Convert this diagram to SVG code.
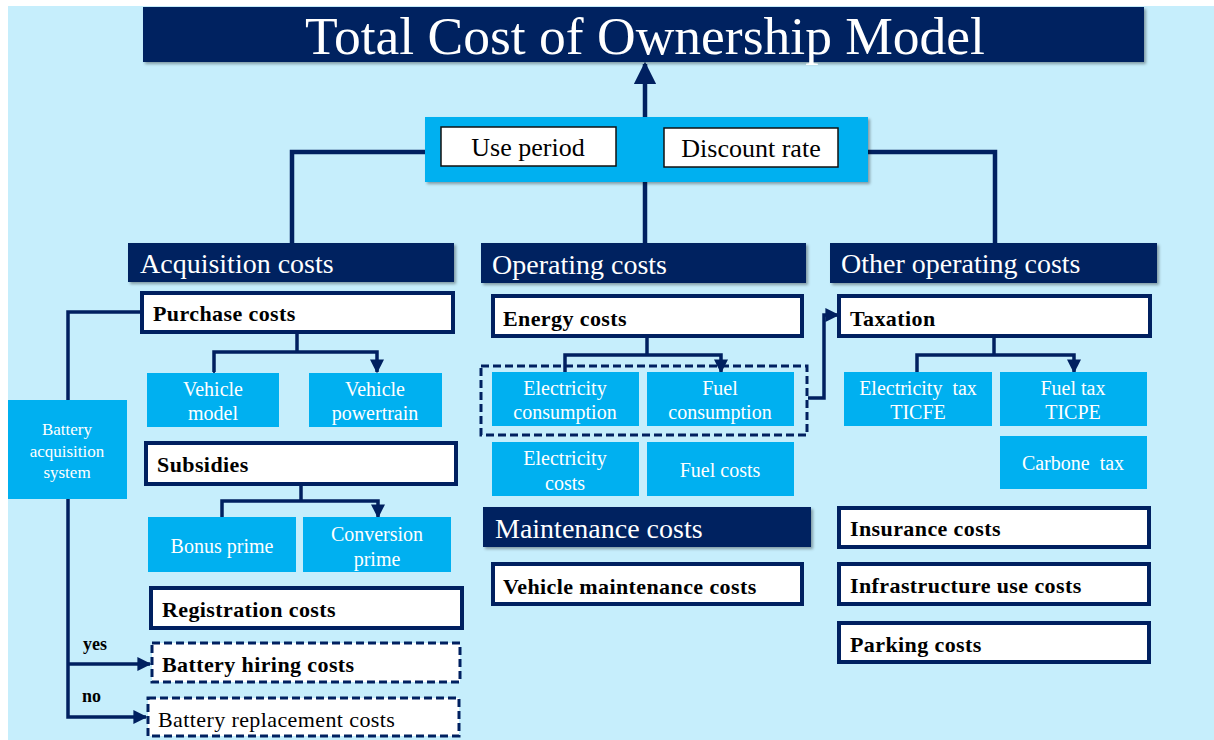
<svg xmlns="http://www.w3.org/2000/svg" width="1214" height="740" viewBox="0 0 1214 740">
<defs>
<style>
text{font-family:"Liberation Serif","Times New Roman",Tinos,"DejaVu Serif",serif;}
.hdr{fill:#002060;}
.wb{fill:#fff;stroke:#002060;stroke-width:4;}
.db{fill:#fff;stroke:#002060;stroke-width:3;stroke-dasharray:8 4;}
.lb{fill:#00B0F0;}
.pw{fill:#fff;stroke:#111;stroke-width:1.5;}
.ht{font-size:28px;fill:#fff;}
.bt{font-weight:bold;font-size:22px;fill:#000;letter-spacing:0.4px;}
.rt{font-size:22px;fill:#000;letter-spacing:0.4px;}
.lt{font-size:20px;fill:#fff;text-anchor:middle;}
.pt{font-size:26px;fill:#000;text-anchor:middle;}
.ln{fill:none;stroke:#002060;stroke-width:4.5;}
.sl{fill:none;stroke:#002060;stroke-width:3.5;}
.yn{font-weight:bold;font-size:18px;fill:#000;}
</style>
<marker id="ah" viewBox="0 0 10 10" refX="9" refY="5" markerWidth="4" markerHeight="4" orient="auto" markerUnits="strokeWidth">
<path d="M0,0 L10,5 L0,10 z" fill="#002060"/>
</marker>
<marker id="ahb" viewBox="0 0 10 10" refX="9" refY="5" markerWidth="5" markerHeight="5" orient="auto" markerUnits="strokeWidth">
<path d="M0,0 L10,5 L0,10 z" fill="#002060"/>
</marker>
<filter id="sh" x="-5%" y="-10%" width="110%" height="130%">
<feDropShadow dx="2" dy="2" stdDeviation="1.5" flood-color="#000" flood-opacity="0.35"/>
</filter>
</defs>

<rect x="0" y="0" width="1214" height="740" fill="#fff"/>
<rect x="8" y="6" width="1206" height="734" fill="#C6EEFC"/>

<g id="connectors">
<line x1="645" y1="118" x2="645" y2="64" class="ln" marker-end="url(#ahb)"/>
<polyline points="425,152 292,152 292,243" class="ln"/>
<line x1="645" y1="182" x2="645" y2="243" class="ln"/>
<polyline points="868,152 995,152 995,243" class="ln"/>
<polyline points="297,333 297,352" class="sl"/>
<polyline points="214,372 214,352 377,352 377,372" class="sl" marker-start="url(#ah)" marker-end="url(#ah)"/>
<polyline points="301,485 301,501" class="sl"/>
<polyline points="222,517 222,501 378,501 378,517" class="sl" marker-start="url(#ah)" marker-end="url(#ah)"/>
<polyline points="647,337 647,355" class="sl"/>
<polyline points="565,372 565,355 721,355 721,372" class="sl" marker-start="url(#ah)" marker-end="url(#ah)"/>
<polyline points="808,398 824,398 824,315 838,315" class="sl" marker-end="url(#ah)"/>
<polyline points="994,337 994,355" class="sl"/>
<polyline points="917,372 917,355 1074,355 1074,372" class="sl" marker-start="url(#ah)" marker-end="url(#ah)"/>
<polyline points="140,312 68,312 68,400" class="sl"/>
<polyline points="68,499 68,717 146,717" class="sl" marker-end="url(#ah)"/>
<polyline points="68,664 150,664" class="sl" marker-end="url(#ah)"/>
</g>

<g id="title">
<rect x="143" y="7" width="1001" height="55" class="hdr" filter="url(#sh)"/>
<text x="645" y="54" font-size="52" fill="#fff" text-anchor="middle" textLength="680" lengthAdjust="spacingAndGlyphs">Total Cost of Ownership Model</text>
</g>

<g id="parameters">
<rect x="425" y="117" width="443" height="65" class="lb" filter="url(#sh)"/>
<g id="use-period">
<rect x="441" y="127" width="175" height="39" class="pw"/>
<text x="528" y="156" class="pt">Use period</text>
</g>
<g id="discount-rate">
<rect x="664" y="128" width="174" height="39" class="pw"/>
<text x="751" y="157" class="pt">Discount rate</text>
</g>
</g>

<g id="acquisition-costs">
<rect x="128" y="243" width="326" height="39" class="hdr" filter="url(#sh)"/>
<text x="140" y="273" class="ht">Acquisition costs</text>
</g>
<g id="operating-costs">
<rect x="481" y="243" width="325" height="40" class="hdr" filter="url(#sh)"/>
<text x="492" y="274" class="ht">Operating costs</text>
</g>
<g id="other-operating-costs">
<rect x="830" y="243" width="327" height="40" class="hdr" filter="url(#sh)"/>
<text x="841" y="273" class="ht">Other operating costs</text>
</g>

<g id="purchase-costs">
<rect x="142" y="293" width="311" height="39" class="wb"/>
<text x="153" y="321" class="bt">Purchase costs</text>
</g>
<g id="vehicle-model">
<rect x="147" y="373" width="132" height="54" class="lb"/>
<text x="213" y="396" class="lt">Vehicle</text>
<text x="213" y="420" class="lt">model</text>
</g>
<g id="vehicle-powertrain">
<rect x="309" y="373" width="133" height="54" class="lb"/>
<text x="375" y="396" class="lt">Vehicle</text>
<text x="375" y="420" class="lt">powertrain</text>
</g>
<g id="subsidies">
<rect x="146" y="443" width="310" height="41" class="wb"/>
<text x="157" y="472" class="bt">Subsidies</text>
</g>
<g id="bonus-prime">
<rect x="148" y="517" width="148" height="55" class="lb"/>
<text x="222" y="553" class="lt">Bonus prime</text>
</g>
<g id="conversion-prime">
<rect x="303" y="517" width="148" height="55" class="lb"/>
<text x="377" y="541" class="lt">Conversion</text>
<text x="377" y="566" class="lt">prime</text>
</g>
<g id="registration-costs">
<rect x="151" y="588" width="311" height="40" class="wb"/>
<text x="162" y="617" class="bt">Registration costs</text>
</g>
<g id="battery-hiring-costs">
<rect x="152" y="643" width="308" height="39" class="db"/>
<text x="162" y="672" class="bt">Battery hiring costs</text>
</g>
<g id="battery-replacement-costs">
<rect x="148" y="698" width="311" height="38" class="db"/>
<text x="158" y="727" class="rt">Battery replacement costs</text>
</g>
<g id="battery-acquisition-system">
<rect x="8" y="400" width="119" height="99" class="lb"/>
<text x="67" y="435" class="lt" style="font-size:17px">Battery</text>
<text x="67" y="457" class="lt" style="font-size:17px">acquisition</text>
<text x="67" y="478" class="lt" style="font-size:17px">system</text>
</g>
<g id="labels-yes-no">
<text x="83" y="650" class="yn">yes</text>
<text x="82" y="702" class="yn">no</text>
</g>

<g id="energy-costs">
<rect x="493" y="296" width="309" height="40" class="wb"/>
<text x="503" y="326" class="bt">Energy costs</text>
</g>
<g id="consumption-group">
<rect x="481" y="366" width="326" height="69" class="db" style="fill:none"/>
</g>
<g id="electricity-consumption">
<rect x="492" y="372" width="147" height="54" class="lb"/>
<text x="565" y="395" class="lt">Electricity</text>
<text x="565" y="419" class="lt">consumption</text>
</g>
<g id="fuel-consumption">
<rect x="647" y="372" width="147" height="54" class="lb"/>
<text x="720" y="395" class="lt">Fuel</text>
<text x="720" y="419" class="lt">consumption</text>
</g>
<g id="electricity-costs">
<rect x="492" y="442" width="147" height="54" class="lb"/>
<text x="565" y="465" class="lt">Electricity</text>
<text x="565" y="490" class="lt">costs</text>
</g>
<g id="fuel-costs">
<rect x="647" y="442" width="147" height="54" class="lb"/>
<text x="720" y="477" class="lt">Fuel costs</text>
</g>
<g id="maintenance-costs">
<rect x="483" y="507" width="328" height="40" class="hdr" filter="url(#sh)"/>
<text x="495" y="538" class="ht">Maintenance costs</text>
</g>
<g id="vehicle-maintenance-costs">
<rect x="493" y="564" width="309" height="40" class="wb"/>
<text x="503" y="594" class="bt">Vehicle maintenance costs</text>
</g>

<g id="taxation">
<rect x="839" y="296" width="311" height="40" class="wb"/>
<text x="850" y="326" class="bt">Taxation</text>
</g>
<g id="electricity-tax">
<rect x="844" y="372" width="148" height="54" class="lb"/>
<text x="918" y="395" class="lt" xml:space="preserve">Electricity  tax</text>
<text x="918" y="419" class="lt">TICFE</text>
</g>
<g id="fuel-tax">
<rect x="1000" y="372" width="147" height="54" class="lb"/>
<text x="1073" y="395" class="lt">Fuel tax</text>
<text x="1073" y="419" class="lt">TICPE</text>
</g>
<g id="carbone-tax">
<rect x="1000" y="436" width="147" height="53" class="lb"/>
<text x="1073" y="470" class="lt" xml:space="preserve">Carbone  tax</text>
</g>
<g id="insurance-costs">
<rect x="839" y="508" width="310" height="39" class="wb"/>
<text x="850" y="536" class="bt">Insurance costs</text>
</g>
<g id="infrastructure-use-costs">
<rect x="839" y="564" width="310" height="40" class="wb"/>
<text x="850" y="593" class="bt">Infrastructure use costs</text>
</g>
<g id="parking-costs">
<rect x="839" y="623" width="310" height="39" class="wb"/>
<text x="850" y="652" class="bt">Parking costs</text>
</g>
</svg>
